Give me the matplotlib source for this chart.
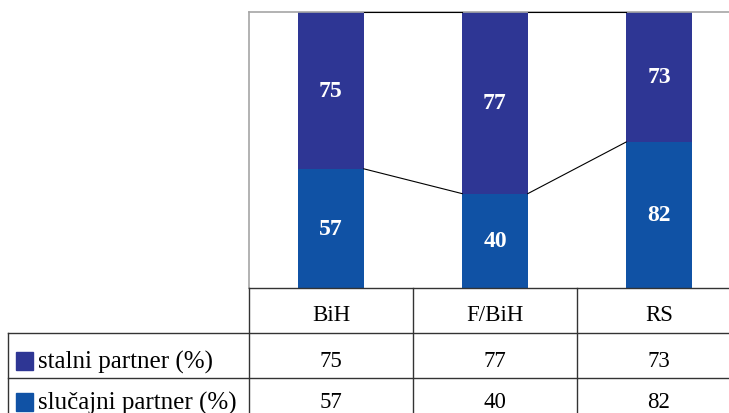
import matplotlib
matplotlib.use("Agg")
import matplotlib.pyplot as plt
from matplotlib.lines import Line2D
from matplotlib.patches import Rectangle
import numpy as np

categories = ["BiH", "F/BiH", "RS"]
series_names = ["stalni partner (%)", "slučajni partner (%)"]
stalni = [75, 77, 73]
slucajni = [57, 40, 82]

col_stalni = "#2E3694"
col_slucajni = "#1052A5"
font = "Liberation Serif"

W, H = 729, 414
fig = plt.figure(figsize=(W / 100, H / 100), dpi=100)

# plot area in pixel terms (extends past the right edge of the canvas)
left_px, right_px, top_px, bot_px = 249, 741, 13, 289
ax = fig.add_axes([left_px / W, 1 - bot_px / H,
                   (right_px - left_px) / W, (bot_px - top_px) / H])

x = np.arange(len(categories))
st = np.array(stalni, float)
sl = np.array(slucajni, float)
tot = st + sl
share_sl = sl / tot
share_st = st / tot
bw = 0.4

ax.bar(x, share_sl, width=bw, color=col_slucajni, zorder=2)
ax.bar(x, share_st, width=bw, bottom=share_sl, color=col_stalni, zorder=2)

# series lines between neighbouring columns
for cum in (share_sl, share_sl + share_st):
    for i in range(len(x) - 1):
        ax.plot([x[i] + bw / 2, x[i + 1] - bw / 2], [cum[i], cum[i + 1]],
                color="black", lw=0.8, zorder=3)

lbl_kw = dict(ha="center", va="center", color="white", fontsize=17,
              fontweight="bold", family=font, zorder=4)
for i in range(len(x)):
    ax.text(x[i], share_sl[i] / 2, f"{slucajni[i]}", **lbl_kw)
    ax.text(x[i], share_sl[i] + share_st[i] / 2, f"{stalni[i]}", **lbl_kw)

ax.set_xlim(-0.5, len(x) - 0.5)
ax.set_ylim(0, 1)
ax.set_xticks([])
ax.set_yticks([])
for s in ("left", "top", "right"):
    ax.spines[s].set_color("#A6A6A6")
    ax.spines[s].set_linewidth(1.2)
ax.spines["bottom"].set_color("#333333")
ax.spines["bottom"].set_linewidth(1.0)

# data table under the plot
def fx(px):
    return px / W

def fy(py):
    return 1 - py / H

def col_px(xd):
    return left_px + (xd + 0.5) / len(x) * (right_px - left_px)

line_kw = dict(color="#333333", lw=1.0, transform=fig.transFigure)
for ry in (334, 379):
    fig.add_artist(Line2D([fx(8), fx(right_px)], [fy(ry), fy(ry)], **line_kw))
fig.add_artist(Line2D([fx(8), fx(8)], [fy(334), fy(430)], **line_kw))
for b in np.arange(len(x) + 1) - 0.5:
    px = col_px(b)
    fig.add_artist(Line2D([fx(px), fx(px)], [fy(bot_px), fy(430)], **line_kw))

header_base = 321
row_base = [367, 408]
for i, c in enumerate(categories):
    fig.text(fx(col_px(x[i])), fy(header_base), c, ha="center", va="baseline",
             fontsize=16.5, family=font)
for r, vals in enumerate([stalni, slucajni]):
    for i, v in enumerate(vals):
        fig.text(fx(col_px(x[i])), fy(row_base[r]), f"{v}", ha="center",
                 va="baseline", fontsize=16.5, family=font)

legend_base = [369, 410]
for r, (name, col) in enumerate(zip(series_names, [col_stalni, col_slucajni])):
    fig.add_artist(Rectangle((fx(16), fy(legend_base[r] + 2)), 17 / W, 18 / H,
                             color=col, transform=fig.transFigure))
    fig.text(fx(38), fy(legend_base[r]), name, ha="left", va="baseline",
             fontsize=18, family=font)

fig.savefig("out.png", dpi=100)
